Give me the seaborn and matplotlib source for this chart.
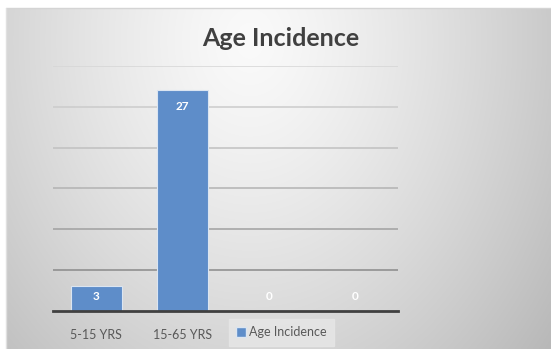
import numpy as np
import pandas as pd
import matplotlib
matplotlib.use("Agg")
import matplotlib.pyplot as plt
import seaborn as sns
from matplotlib.lines import Line2D

# Data
categories = ["5-15 YRS", "15-65 YRS", "cat3", "cat4"]
tick_labels = ["5-15 YRS", "15-65 YRS", "", ""]
values = [3, 27, 0, 0]
series_name = "Age Incidence"
title = "Age Incidence"

sns.set_theme(style="white")
plt.rcParams["font.family"] = ["Lato", "DejaVu Sans"]

W, H = 551, 349
fig = plt.figure(figsize=(W / 100, H / 100), dpi=100)
fig.patch.set_facecolor("white")

# Gradient backdrop panel
bg = fig.add_axes([0, 0, 1, 1], zorder=0)
bg.set_xlim(0, W)
bg.set_ylim(H, 0)
bg.axis("off")
px0, py0 = 6, 8
xx, yy = np.meshgrid(np.linspace(px0, W, 300), np.linspace(py0, H, 200))
cx, cy = 250, 40
r = np.sqrt(((xx - cx) / 330.0) ** 2 + ((yy - cy) / 420.0) ** 2)
shade = np.clip(0.98 - 0.21 * r ** 1.3, 0, 1)
img = np.dstack([shade, shade, shade])
bg.imshow(img, extent=(px0, W, H, py0), aspect="auto", interpolation="bilinear")
bg.plot([px0, W], [py0, py0], color="#d4d4d4", lw=1)
bg.plot([px0, px0], [py0, H], color="#e0e0e0", lw=1)

# Chart axes
left, right, base, top = 53, 398, 310.7, 66
ax = fig.add_axes([left / W, 1 - base / H, (right - left) / W, (base - top) / H], zorder=1)
ax.patch.set_alpha(0)

df = pd.DataFrame({"category": categories, "value": values})
bar_color = "#5e8dc9"
sns.barplot(data=df, x="category", y="value", order=categories, color=bar_color,
            width=0.59, saturation=1, edgecolor="#dbe5f1", linewidth=0.8, ax=ax, zorder=3)

ax.set_ylim(0, 30)
ax.set_xlim(-0.5, len(categories) - 0.5)
grid_vals = [5, 10, 15, 20, 25, 30]
grid_cols = ["#8a8a8a", "#a0a0a0", "#b2b2b2", "#c0c0c0", "#cbcbcb", "#d6d6d6"]
for gv, gc in zip(grid_vals, grid_cols):
    ax.axhline(gv, color=gc, lw=1.1, zorder=1)
ax.set_yticks([])
ax.tick_params(left=False, labelleft=False, bottom=False, pad=7)
ax.set_xticks(range(len(categories)))
ax.set_xticklabels(tick_labels, fontsize=9, color="#595959")
ax.set_xlabel("")
ax.set_ylabel("")
for s in ["left", "right", "top"]:
    ax.spines[s].set_visible(False)
ax.spines["bottom"].set_color("#404040")
ax.spines["bottom"].set_linewidth(2)
ax.spines["bottom"].set_zorder(4)

# Value labels
px_per_unit = (base - top) / 30.0
for i, v in enumerate(values):
    if v > 0:
        off = -min(16.5, 0.4 * v * px_per_unit)
    else:
        off = 14.7
    ax.annotate(str(v), xy=(i, v), xytext=(0, off * 0.72), textcoords="offset points",
                ha="center", va="center", color="white", fontsize=8.5,
                fontweight="bold", zorder=5)

# Title
fig.text(281 / W, 1 - 46 / H, title, ha="center", va="baseline",
         fontsize=18, fontweight="bold", color="#404040")

# Legend
handle = Line2D([], [], marker="s", linestyle="none", markersize=7,
                markerfacecolor=bar_color, markeredgecolor="#dbe5f1")
leg = fig.legend([handle], [series_name], loc="center",
                 bbox_to_anchor=(281.5 / W, 1 - 332.5 / H), frameon=True,
                 fontsize=9, handlelength=0.8, handletextpad=0.2,
                 borderpad=0.6, fancybox=False)
leg.get_frame().set_facecolor("#e6e6e6")
leg.get_frame().set_edgecolor("#e6e6e6")
leg.get_frame().set_alpha(0.85)
for t in leg.get_texts():
    t.set_color("#595959")

fig.savefig("out.png", dpi=100)
